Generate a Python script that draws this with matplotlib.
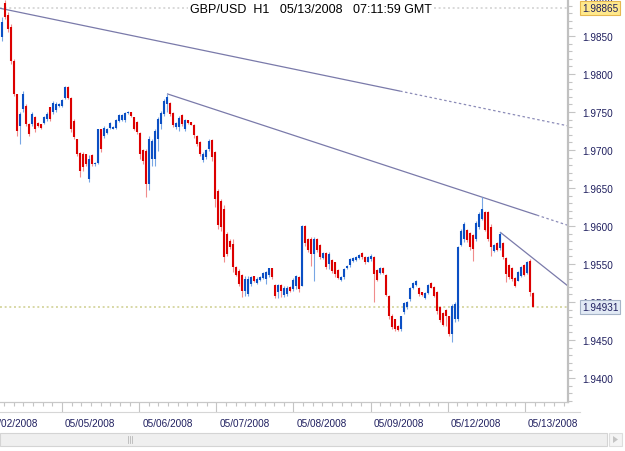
import matplotlib

matplotlib.use("Agg")
import matplotlib.pyplot as plt
import numpy as np
from matplotlib.lines import Line2D
from matplotlib.patches import Polygon, Rectangle
from matplotlib.ticker import FixedLocator, FormatStrFormatter, MultipleLocator
from matplotlib.transforms import blended_transform_factory

plt.rcParams["font.family"] = ["Liberation Sans", "DejaVu Sans"]

TITLE = "GBP/USD  H1   05/13/2008   07:11:59 GMT"

# hourly OHLC bars
opens = [
    1.9849, 1.9894, 1.9878, 1.9862, 1.9817, 1.9774, 1.9731, 1.9754, 1.9758, 1.9734,
    1.9734, 1.9744, 1.9736, 1.9734, 1.9736, 1.9741, 1.9756, 1.9750, 1.9753, 1.9758,
    1.9758, 1.9768, 1.9783, 1.9768, 1.9738, 1.9714, 1.9696, 1.9695, 1.9695, 1.9662,
    1.9694, 1.9681, 1.9683, 1.9727, 1.9719, 1.9723, 1.9729, 1.9728, 1.9729, 1.9738,
    1.9740, 1.9740, 1.9749, 1.9750, 1.9744, 1.9737, 1.9723, 1.9700, 1.9699, 1.9655,
    1.9688, 1.9688, 1.9714, 1.9734, 1.9747, 1.9761, 1.9762, 1.9749, 1.9730, 1.9730,
    1.9746, 1.9728, 1.9740, 1.9737, 1.9733, 1.9719, 1.9711, 1.9687, 1.9691, 1.9701,
    1.9713, 1.9698, 1.9646, 1.9633, 1.9622, 1.9589, 1.9580, 1.9576, 1.9546, 1.9541,
    1.9536, 1.9514, 1.9511, 1.9524, 1.9534, 1.9525, 1.9529, 1.9532, 1.9530, 1.9535,
    1.9545, 1.9523, 1.9513, 1.9523, 1.9509, 1.9511, 1.9520, 1.9517, 1.9521, 1.9533,
    1.9521, 1.9600, 1.9583, 1.9583, 1.9563, 1.9583, 1.9575, 1.9558, 1.9565, 1.9550,
    1.9555, 1.9552, 1.9542, 1.9529, 1.9533, 1.9545, 1.9549, 1.9554, 1.9555, 1.9558,
    1.9565, 1.9559, 1.9553, 1.9556, 1.9559, 1.9542, 1.9538, 1.9545, 1.9536, 1.9508,
    1.9482, 1.9477, 1.9469, 1.9464, 1.9487, 1.9493, 1.9504, 1.9518, 1.9522, 1.9519,
    1.9513, 1.9505, 1.9512, 1.9525, 1.9520, 1.9513, 1.9494, 1.9486, 1.9490, 1.9481,
    1.9458, 1.9478, 1.9478, 1.9575, 1.9583, 1.9595, 1.9591, 1.9588, 1.9583, 1.9599,
    1.9609, 1.9619, 1.9619, 1.9599, 1.9567, 1.9578, 1.9571, 1.9578, 1.9558, 1.9549,
    1.9545, 1.9532, 1.9528, 1.9534, 1.9549, 1.9538, 1.9554, 1.9512,
]
highs = [
    1.9875, 1.9897, 1.9882, 1.9866, 1.9820, 1.9774, 1.9750, 1.9778, 1.9761, 1.9736,
    1.9750, 1.9745, 1.9737, 1.9734, 1.9745, 1.9750, 1.9757, 1.9765, 1.9763, 1.9762,
    1.9767, 1.9784, 1.9784, 1.9770, 1.9741, 1.9714, 1.9698, 1.9698, 1.9695, 1.9694,
    1.9695, 1.9684, 1.9728, 1.9728, 1.9732, 1.9729, 1.9737, 1.9732, 1.9741, 1.9747,
    1.9747, 1.9750, 1.9751, 1.9750, 1.9744, 1.9738, 1.9724, 1.9701, 1.9701, 1.9719,
    1.9714, 1.9728, 1.9743, 1.9751, 1.9767, 1.9774, 1.9763, 1.9750, 1.9737, 1.9745,
    1.9747, 1.9741, 1.9740, 1.9737, 1.9734, 1.9720, 1.9712, 1.9698, 1.9701, 1.9715,
    1.9714, 1.9699, 1.9649, 1.9635, 1.9628, 1.9592, 1.9583, 1.9583, 1.9548, 1.9543,
    1.9537, 1.9534, 1.9534, 1.9534, 1.9534, 1.9533, 1.9534, 1.9539, 1.9541, 1.9545,
    1.9545, 1.9524, 1.9524, 1.9524, 1.9521, 1.9521, 1.9521, 1.9532, 1.9536, 1.9534,
    1.9601, 1.9601, 1.9584, 1.9586, 1.9586, 1.9584, 1.9576, 1.9566, 1.9566, 1.9566,
    1.9556, 1.9552, 1.9543, 1.9534, 1.9545, 1.9549, 1.9558, 1.9559, 1.9561, 1.9563,
    1.9566, 1.9561, 1.9561, 1.9563, 1.9561, 1.9543, 1.9546, 1.9546, 1.9537, 1.9509,
    1.9484, 1.9478, 1.9470, 1.9482, 1.9500, 1.9501, 1.9520, 1.9526, 1.9529, 1.9520,
    1.9513, 1.9513, 1.9524, 1.9526, 1.9521, 1.9515, 1.9495, 1.9487, 1.9491, 1.9482,
    1.9497, 1.9500, 1.9574, 1.9596, 1.9605, 1.9596, 1.9592, 1.9589, 1.9607, 1.9619,
    1.9638, 1.9620, 1.9620, 1.9603, 1.9576, 1.9579, 1.9592, 1.9579, 1.9559, 1.9550,
    1.9546, 1.9533, 1.9541, 1.9548, 1.9550, 1.9554, 1.9557, 1.9513,
]
lows = [
    1.9844, 1.9872, 1.9855, 1.9813, 1.9771, 1.9719, 1.9708, 1.9750, 1.9732, 1.9719,
    1.9732, 1.9724, 1.9730, 1.9728, 1.9734, 1.9738, 1.9738, 1.9747, 1.9750, 1.9757,
    1.9757, 1.9767, 1.9767, 1.9724, 1.9714, 1.9692, 1.9665, 1.9673, 1.9679, 1.9658,
    1.9679, 1.9679, 1.9681, 1.9697, 1.9716, 1.9721, 1.9728, 1.9728, 1.9728, 1.9737,
    1.9738, 1.9737, 1.9747, 1.9743, 1.9726, 1.9721, 1.9688, 1.9682, 1.9638, 1.9648,
    1.9679, 1.9679, 1.9699, 1.9728, 1.9745, 1.9750, 1.9745, 1.9730, 1.9728, 1.9725,
    1.9732, 1.9725, 1.9734, 1.9733, 1.9716, 1.9705, 1.9692, 1.9684, 1.9688, 1.9699,
    1.9686, 1.9625, 1.9596, 1.9593, 1.9552, 1.9560, 1.9570, 1.9540, 1.9534, 1.9521,
    1.9507, 1.9508, 1.9508, 1.9521, 1.9526, 1.9524, 1.9528, 1.9530, 1.9524, 1.9533,
    1.9530, 1.9505, 1.9505, 1.9507, 1.9507, 1.9508, 1.9513, 1.9514, 1.9517, 1.9513,
    1.9521, 1.9574, 1.9566, 1.9547, 1.9528, 1.9566, 1.9556, 1.9556, 1.9543, 1.9543,
    1.9538, 1.9533, 1.9530, 1.9528, 1.9530, 1.9543, 1.9546, 1.9553, 1.9554, 1.9556,
    1.9556, 1.9550, 1.9552, 1.9554, 1.9500, 1.9527, 1.9537, 1.9537, 1.9508, 1.9478,
    1.9464, 1.9462, 1.9462, 1.9462, 1.9484, 1.9491, 1.9501, 1.9517, 1.9521, 1.9508,
    1.9508, 1.9504, 1.9511, 1.9518, 1.9507, 1.9484, 1.9474, 1.9468, 1.9469, 1.9455,
    1.9447, 1.9474, 1.9475, 1.9574, 1.9579, 1.9579, 1.9569, 1.9554, 1.9580, 1.9596,
    1.9608, 1.9594, 1.9580, 1.9560, 1.9566, 1.9567, 1.9569, 1.9556, 1.9526, 1.9530,
    1.9528, 1.9520, 1.9527, 1.9533, 1.9534, 1.9537, 1.9508, 1.9493,
]
closes = [
    1.9869, 1.9875, 1.9859, 1.9817, 1.9774, 1.9725, 1.9747, 1.9774, 1.9734, 1.9721,
    1.9747, 1.9728, 1.9732, 1.9729, 1.9744, 1.9747, 1.9741, 1.9762, 1.9761, 1.9761,
    1.9766, 1.9783, 1.9768, 1.9728, 1.9717, 1.9695, 1.9673, 1.9678, 1.9681, 1.9688,
    1.9681, 1.9683, 1.9727, 1.9701, 1.9729, 1.9728, 1.9736, 1.9730, 1.9740, 1.9746,
    1.9746, 1.9749, 1.9750, 1.9745, 1.9727, 1.9724, 1.9695, 1.9686, 1.9655, 1.9714,
    1.9712, 1.9725, 1.9741, 1.9749, 1.9765, 1.9770, 1.9747, 1.9733, 1.9736, 1.9742,
    1.9734, 1.9740, 1.9736, 1.9733, 1.9720, 1.9708, 1.9695, 1.9695, 1.9700, 1.9712,
    1.9691, 1.9635, 1.9601, 1.9599, 1.9559, 1.9563, 1.9572, 1.9546, 1.9536, 1.9524,
    1.9515, 1.9530, 1.9530, 1.9533, 1.9528, 1.9530, 1.9533, 1.9538, 1.9540, 1.9545,
    1.9533, 1.9508, 1.9522, 1.9514, 1.9519, 1.9519, 1.9514, 1.9529, 1.9534, 1.9517,
    1.9600, 1.9577, 1.9569, 1.9563, 1.9583, 1.9569, 1.9559, 1.9565, 1.9546, 1.9563,
    1.9541, 1.9537, 1.9532, 1.9533, 1.9543, 1.9547, 1.9557, 1.9558, 1.9559, 1.9562,
    1.9559, 1.9552, 1.9559, 1.9561, 1.9537, 1.9529, 1.9545, 1.9538, 1.9509, 1.9481,
    1.9467, 1.9464, 1.9463, 1.9481, 1.9499, 1.9500, 1.9519, 1.9525, 1.9528, 1.9511,
    1.9509, 1.9512, 1.9523, 1.9519, 1.9508, 1.9488, 1.9476, 1.9470, 1.9481, 1.9458,
    1.9495, 1.9497, 1.9572, 1.9594, 1.9602, 1.9582, 1.9572, 1.9570, 1.9604, 1.9616,
    1.9622, 1.9595, 1.9583, 1.9572, 1.9575, 1.9569, 1.9589, 1.9559, 1.9537, 1.9533,
    1.9530, 1.9521, 1.9540, 1.9546, 1.9536, 1.9553, 1.9513, 1.9493,
]

HIGH_MARK = 1.98865
BID_MARK = 1.94931

date_labels = ["05/02/2008", "05/05/2008", "05/06/2008", "05/07/2008",
               "05/08/2008", "05/09/2008", "05/12/2008", "05/13/2008"]
date_ticks = [-5.72, 20.0, 45.72, 71.44, 97.16, 122.88, 148.6, 174.32]

# trend lines: solid between the two anchors (bar, price), dotted beyond
trend_lines = [
    ((-0.67, 1.98865), (132.7, 1.97775)),
    ((55, 1.9774), (178.3, 1.96143)),
    ((166, 1.9592), (188.67, 1.9521)),
]

X_MIN, X_MAX = -0.67, 188.67
Y_MIN, Y_MAX = 1.93684, 1.98987

LABEL_COLOR = "#1f1f5f"
RULER_COLOR = "#c4c4c4"

fig = plt.figure(figsize=(6.25, 4.52), dpi=100)
ax = fig.add_axes([0, 49 / 452, 568 / 625, 403 / 452])
ax.set_xlim(X_MIN, X_MAX)
ax.set_ylim(Y_MIN, Y_MAX)

o = np.array(opens)
h = np.array(highs)
l = np.array(lows)
c = np.array(closes)
x = np.arange(len(o))
up = c >= o
wick_cols = np.where(up, "#78a6e4", "#f08c8c")
body_cols = np.where(up, "#0b4fc4", "#dc0000")
ax.vlines(x, l, h, colors=wick_cols, lw=0.8, zorder=3)
ax.vlines(x, np.minimum(o, c), np.maximum(o, c), colors=body_cols, lw=1.5, zorder=4)

# horizontal markers
ax.axhline(HIGH_MARK, color="#d9d9d9", lw=1.4, ls=(0, (1, 1.4)), zorder=1)
ax.axhline(BID_MARK, color="#d8d8a6", lw=1.4, ls=(0, (1, 1.4)), zorder=1)

for (x0, p0), (x1, p1) in trend_lines:
    ax.plot([x0, x1], [p0, p1], color="#7a7aaa", lw=0.9, zorder=2,
            solid_capstyle="butt")
    slope = (p1 - p0) / (x1 - x0)
    if x1 < X_MAX:
        ax.plot([x1, X_MAX], [p1, p1 + slope * (X_MAX - x1)], color="#8c8cb8",
                lw=0.9, ls=(0, (2, 2)), zorder=2)

ax.text(311 / 568, 1 - 10 / 403, TITLE, transform=ax.transAxes, ha="center",
        va="center", fontsize=9, color="black", zorder=6,
        bbox=dict(boxstyle="square,pad=0.15", fc="white", ec="none"))

# right price scale
for side in ("top", "left"):
    ax.spines[side].set_visible(False)
ax.spines["right"].set_color("#c0c0c0")
ax.spines["right"].set_linewidth(1.6)
ax.spines["bottom"].set_color("#c8c8c8")
ax.spines["bottom"].set_linewidth(0.9)
ax.yaxis.tick_right()
ax.yaxis.set_major_locator(MultipleLocator(0.005))
ax.yaxis.set_minor_locator(MultipleLocator(0.001))
ax.yaxis.set_major_formatter(FormatStrFormatter("%.4f"))
ax.tick_params(axis="y", which="major", length=5, width=0.8, color=RULER_COLOR,
               pad=5, labelsize=7.2, labelcolor=LABEL_COLOR)
ax.tick_params(axis="y", which="minor", length=2.6, width=0.8, color=RULER_COLOR)

label_x = 1 + 14 / 568
price_tf = blended_transform_factory(ax.transAxes, ax.transData)
ax.text(label_x, 1.9900, "1.9900", transform=price_tf, ha="left", va="center",
        fontsize=7.2, color=LABEL_COLOR, clip_on=False)
ax.text(label_x, HIGH_MARK, f"{HIGH_MARK:.5f}", transform=price_tf, ha="left",
        va="center", fontsize=7.2, color=LABEL_COLOR, clip_on=False, zorder=7,
        bbox=dict(boxstyle="square,pad=0.18", fc="#ffe98c", ec="#e6b850", lw=0.8))
ax.text(label_x, BID_MARK, f"{BID_MARK:.5f}", transform=price_tf, ha="left",
        va="center", fontsize=7.2, color=LABEL_COLOR, clip_on=False, zorder=7,
        bbox=dict(boxstyle="square,pad=0.18", fc="#e2eaf5", ec="#a6b4c8", lw=0.8))

# bottom time ruler
day_step = date_ticks[2] - date_ticks[1]
minor_ticks = [t + day_step * k / 8 for t in date_ticks for k in range(1, 8)]
ax.xaxis.set_major_locator(FixedLocator(date_ticks))
ax.xaxis.set_minor_locator(FixedLocator(minor_ticks))
ax.tick_params(axis="x", which="major", length=7.2, width=0.8, color=RULER_COLOR,
               labelbottom=False)
ax.tick_params(axis="x", which="minor", length=2.8, width=0.8, color=RULER_COLOR)

date_tf = blended_transform_factory(ax.transData, fig.transFigure)
for t, lab in zip(date_ticks, date_labels):
    ax.text(t + 1.0, 1 - 424 / 452, lab, transform=date_tf, ha="left", va="center",
            fontsize=7.2, color=LABEL_COLOR, clip_on=False)

fig.add_artist(Line2D([0, 580 / 625], [1 - 413 / 452] * 2, transform=fig.transFigure,
                      color="#d6d6d6", lw=0.8))

# scroll bar
fig.add_artist(Rectangle((0, 1 - 447 / 452), 607 / 625, 13 / 452,
                         transform=fig.transFigure, fc="#efefef", ec="#d4d4d4", lw=0.8))
for gx in (128, 130, 132):
    fig.add_artist(Line2D([gx / 625] * 2, [1 - 444 / 452, 1 - 437 / 452],
                          transform=fig.transFigure, color="#b8b8b8", lw=0.6))
fig.add_artist(Rectangle((609 / 625, 1 - 447 / 452), 13 / 625, 13 / 452,
                         transform=fig.transFigure, fc="#f4f4f4", ec="#dddddd", lw=0.8))
fig.add_artist(Polygon([[613 / 625, 1 - 437 / 452], [613 / 625, 1 - 444 / 452],
                        [618 / 625, 1 - 440.5 / 452]], closed=True,
                       transform=fig.transFigure, fc="#c4c4c4", ec="none"))

fig.savefig("out.png", dpi=100)
